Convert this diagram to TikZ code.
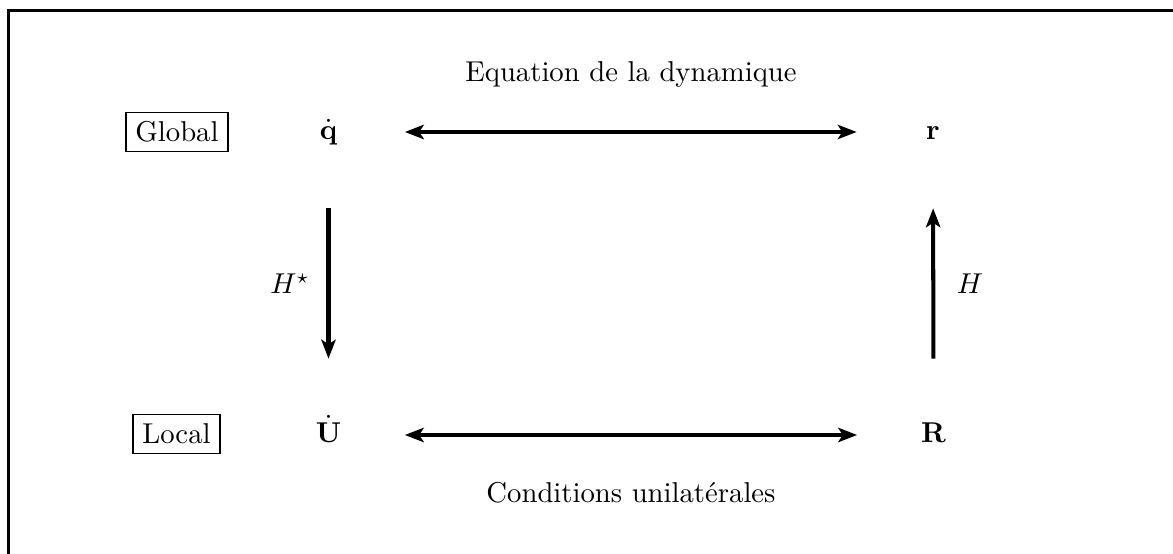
\documentclass[tikz,border=0pt]{standalone}
\usetikzlibrary{arrows.meta}
\begin{document}
\begin{tikzpicture}[x=0.3484pt,y=-0.3484pt,
  frameline/.style={line width=1.05pt},
  tagbox/.style={draw,line width=0.4pt,inner sep=3.3pt},
  obj/.style={inner sep=0pt,text height=7pt,text depth=2pt},
  tip/.style={Stealth[length=6.6pt,width=5pt,inset=1.6pt]},
  arr/.style={line width=1.4pt,-{Stealth[length=6.6pt,width=5pt,inset=1.6pt]},shorten >=26.6pt,shorten <=26.6pt},
  darr/.style={line width=1.4pt,{Stealth[length=6.6pt,width=5pt,inset=1.6pt]}-{Stealth[length=6.6pt,width=5pt,inset=1.6pt]},shorten >=26.6pt,shorten <=26.6pt},
  lbl/.style={inner sep=0pt,anchor=base}]
\useasboundingbox (0,0) rectangle (1173,554);
% partial frame
\coordinate (ftop) at (1173,10.5);
\coordinate (fcorner) at (8.5,10.5);
\coordinate (fbot) at (8.5,554);
\draw[frameline] (ftop) -- (fcorner) -- (fbot);
% tags
\node[tagbox] (global) at (177,132) {Global};
\node[tagbox] (local) at (176.5,434) {Local};
% objects
\node[obj] (qd) at (328.5,132) {$\dot{\mathbf q}$};
\node[obj] (r) at (933,132) {$\mathbf r$};
\node[obj] (Ud) at (328.5,435) {$\dot{\mathbf U}$};
\node[obj] (R) at (933.5,435) {$\mathbf R$};
% connectors
\draw[darr] (qd.center) -- (r.center);
\draw[darr] (Ud.center) -- (R.center);
\draw[arr] (qd.center) -- (Ud.center);
\draw[arr] (R.center) -- (r.center);
% labels
\node[lbl] (eqdyn) at (631,82) {Equation de la dynamique};
\node[lbl] (condu) at (631,503) {Conditions unilat\'erales};
\node[lbl] (hstar) at (290,294) {$H^\star$};
\node[lbl] (h) at (970,294) {$H$};
\end{tikzpicture}
\end{document}
